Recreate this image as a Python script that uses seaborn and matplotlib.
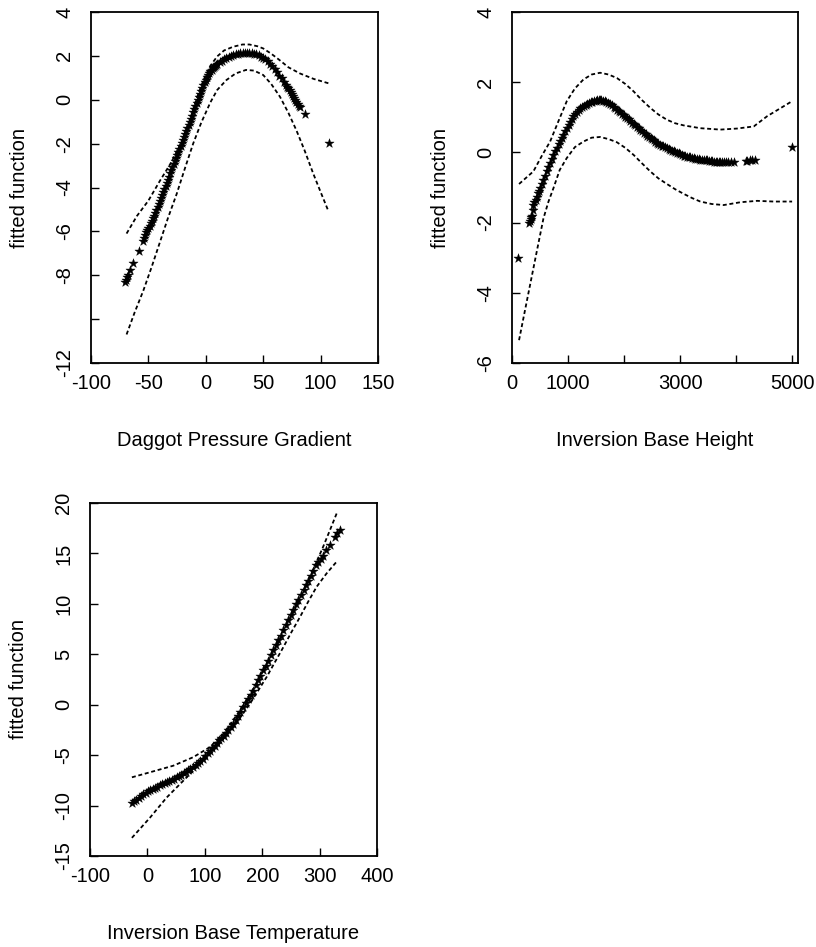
import matplotlib
matplotlib.use("Agg")
import matplotlib.pyplot as plt
import seaborn as sns
import pandas as pd

# ---- Daggot Pressure Gradient ----
dpg_x = [-70, -69.5, -69, -68, -66, -63, -58, -55, -54, -53, -52, -51, -50, -49, -48, -47,
         -46, -45, -44, -43, -42, -41, -40, -39, -38, -37, -36, -35, -34, -33, -32, -31,
         -30, -29, -28, -27, -26, -25, -24, -23, -22, -21, -20, -19, -18, -17, -16, -15,
         -14, -13, -12, -11, -10, -9, -8, -7, -6, -5, -4, -3, -2, -1, 0, 1, 2, 3, 4, 5, 6,
         7, 8, 9, 10, 12, 14, 16, 18, 20, 22, 24, 26, 28, 30, 32, 34, 36, 38, 40, 42, 44,
         46, 48, 50, 52, 54, 56, 58, 60, 62, 64, 66, 68, 70, 71, 72, 73, 74, 75, 76, 77,
         78, 79, 80, 81, 82, 86, 107]
dpg_fit = [-8.3, -8.2, -8.1, -8.0, -7.75, -7.45, -6.9, -6.45, -6.3, -6.15, -6.05, -5.95,
           -5.85, -5.75, -5.63, -5.52, -5.4, -5.29, -5.17, -5.03, -4.89, -4.75, -4.61,
           -4.47, -4.34, -4.2, -4.06, -3.92, -3.78, -3.64, -3.5, -3.36, -3.22, -3.08,
           -2.95, -2.81, -2.67, -2.53, -2.39, -2.25, -2.11, -1.97, -1.83, -1.69, -1.56,
           -1.42, -1.28, -1.14, -1.0, -0.86, -0.72, -0.58, -0.44, -0.3, -0.17, -0.03,
           0.11, 0.25, 0.39, 0.53, 0.66, 0.8, 0.92, 1.03, 1.12, 1.21, 1.3, 1.37, 1.43,
           1.49, 1.55, 1.6, 1.65, 1.72, 1.78, 1.84, 1.89, 1.94, 1.99, 2.03, 2.07, 2.1,
           2.12, 2.14, 2.15, 2.15, 2.14, 2.13, 2.1, 2.07, 2.02, 1.97, 1.91, 1.84, 1.75,
           1.64, 1.52, 1.39, 1.25, 1.1, 0.97, 0.83, 0.68, 0.6, 0.52, 0.43, 0.35, 0.25,
           0.15, 0.07, 0.0, -0.1, -0.2, -0.27, -0.35, -0.65, -1.95]
dpg_up_x = [-69, -60, -50, -40, -30, -20, -14, -8, -2, 4, 10, 16, 24, 32, 38, 45, 50, 57,
            64, 72, 82, 94, 107]
dpg_up = [-6.1, -5.3, -4.6, -3.7, -2.85, -1.8, -0.95, 0.05, 0.9, 1.55, 1.98, 2.25, 2.42,
          2.52, 2.52, 2.44, 2.34, 2.1, 1.82, 1.48, 1.2, 0.95, 0.75]
dpg_lo_x = [-69, -62, -54.4, -47, -40, -33, -25.4, -18, -11, -4, 4, 10, 18, 26, 35, 42, 50,
            57, 64.6, 72, 79, 86, 93.5, 100, 107]
dpg_lo = [-10.7, -9.7, -8.7, -7.6, -6.5, -5.4, -4.3, -3.1, -2.0, -1.05, -0.12, 0.45, 0.9,
          1.2, 1.36, 1.33, 1.13, 0.72, 0.14, -0.6, -1.4, -2.3, -3.35, -4.2, -5.1]

# ---- Inversion Base Height ----
ibh_x = [113, 310, 320, 330, 340, 350, 365, 381, 400, 420, 440, 460, 480, 500, 530, 560,
         590, 619, 650, 680, 710, 738, 770, 800, 830, 860, 890, 917, 950, 980, 1010, 1040,
         1070, 1095, 1130, 1160, 1190, 1220, 1250, 1280, 1310, 1333, 1370, 1400, 1430,
         1460, 1490, 1520, 1545, 1571, 1595, 1620, 1650, 1680, 1710, 1740, 1775, 1810,
         1840, 1870, 1900, 1930, 1960, 1990, 2020, 2048, 2080, 2110, 2140, 2170, 2200,
         2230, 2260, 2286, 2320, 2350, 2380, 2410, 2440, 2470, 2500, 2524, 2550, 2580,
         2610, 2640, 2670, 2700, 2730, 2762, 2790, 2820, 2850, 2880, 2910, 2940, 2970,
         3000, 3030, 3060, 3090, 3120, 3150, 3180, 3210, 3238, 3270, 3300, 3330, 3360,
         3390, 3420, 3450, 3476, 3510, 3540, 3570, 3600, 3630, 3660, 3690, 3714, 3750,
         3780, 3820, 3850, 3900, 3952, 4170, 4190, 4240, 4280, 4339, 4994]
ibh_fit = [-3.0, -2.02, -1.96, -1.9, -1.85, -1.8, -1.65, -1.5, -1.42, -1.35, -1.26, -1.17,
           -1.1, -1.02, -0.9, -0.78, -0.66, -0.54, -0.42, -0.3, -0.18, -0.07, 0.03, 0.13,
           0.23, 0.32, 0.41, 0.5, 0.6, 0.7, 0.79, 0.87, 0.96, 1.03, 1.1, 1.15, 1.21, 1.26,
           1.3, 1.33, 1.36, 1.38, 1.41, 1.43, 1.45, 1.46, 1.47, 1.48, 1.48, 1.48, 1.48,
           1.47, 1.46, 1.44, 1.41, 1.38, 1.34, 1.3, 1.26, 1.22, 1.18, 1.14, 1.1, 1.06,
           1.02, 0.98, 0.94, 0.9, 0.85, 0.81, 0.77, 0.73, 0.69, 0.65, 0.6, 0.56, 0.52,
           0.48, 0.44, 0.4, 0.37, 0.34, 0.31, 0.28, 0.25, 0.22, 0.19, 0.17, 0.14, 0.12,
           0.1, 0.08, 0.05, 0.03, 0.01, -0.01, -0.03, -0.05, -0.07, -0.09, -0.1, -0.12,
           -0.13, -0.14, -0.15, -0.16, -0.18, -0.19, -0.2, -0.21, -0.22, -0.22, -0.23,
           -0.23, -0.24, -0.25, -0.25, -0.26, -0.26, -0.26, -0.26, -0.26, -0.26, -0.26,
           -0.26, -0.26, -0.26, -0.26, -0.24, -0.24, -0.23, -0.22, -0.21, 0.15]
ibh_up_x = [125, 381, 530, 679, 830, 976, 1120, 1274, 1420, 1571, 1720, 1869, 2020, 2167,
            2310, 2464, 2610, 2762, 2910, 3060, 3357, 3714, 4012, 4310, 4548, 4994]
ibh_up = [-0.9, -0.54, -0.1, 0.31, 0.9, 1.46, 1.82, 2.08, 2.22, 2.27, 2.22, 2.12, 1.95,
          1.74, 1.5, 1.27, 1.08, 0.93, 0.83, 0.77, 0.69, 0.65, 0.68, 0.74, 1.03, 1.46]
ibh_lo_x = [125, 202, 321, 440, 560, 650, 738, 850, 976, 1120, 1274, 1420, 1571, 1720,
            1869, 2020, 2167, 2310, 2464, 2610, 2762, 2910, 3060, 3210, 3357, 3560, 3774,
            4071, 4369, 4667, 4994]
ibh_lo = [-5.35, -4.73, -3.78, -2.83, -1.88, -1.4, -1.02, -0.5, -0.16, 0.15, 0.31, 0.42,
          0.44, 0.38, 0.29, 0.13, -0.07, -0.3, -0.54, -0.74, -0.9, -1.05, -1.18, -1.3,
          -1.4, -1.47, -1.5, -1.42, -1.38, -1.4, -1.4]

# ---- Inversion Base Temperature ----
ibt_x = [-27, -23, -19, -15, -11, -7, -3, 1, 5, 9, 13, 17, 22, 26, 30, 34, 38, 42, 46, 51,
         55, 59, 63, 67, 71, 75, 80, 84, 88, 92, 96, 100, 105, 109, 113, 117, 121, 125,
         129, 133, 137, 141, 145, 150, 154, 158, 162, 167, 171, 175, 180, 184, 189, 193,
         197, 202, 206, 210, 215, 219, 224, 228, 232, 237, 241, 245, 250, 254, 259, 263,
         268, 272, 276, 280, 285, 289, 294, 298, 302, 306, 312, 318, 327, 331, 336]
ibt_fit = [-9.7, -9.55, -9.4, -9.25, -9.1, -8.9, -8.75, -8.6, -8.45, -8.35, -8.25, -8.15,
           -8.0, -7.9, -7.8, -7.7, -7.55, -7.45, -7.35, -7.2, -7.07, -6.93, -6.8, -6.65,
           -6.5, -6.37, -6.2, -6.0, -5.8, -5.6, -5.35, -5.1, -4.8, -4.55, -4.3, -4.05,
           -3.8, -3.55, -3.35, -3.15, -2.85, -2.55, -2.25, -1.9, -1.5, -1.1, -0.7, -0.25,
           0.15, 0.55, 1.0, 1.4, 1.95, 2.4, 2.85, 3.4, 3.85, 4.35, 4.9, 5.4, 5.95, 6.4,
           6.85, 7.4, 7.9, 8.35, 8.9, 9.4, 9.95, 10.4, 10.9, 11.35, 11.85, 12.3, 12.8,
           13.3, 13.8, 14.15, 14.45, 14.75, 15.3, 15.8, 16.6, 17.0, 17.3]
ibt_up_x = [-27, 4.5, 45, 80, 109, 132, 146, 161, 175, 190, 204, 219, 233, 248, 263,
            277.5, 292, 306.5, 318, 330]
ibt_up = [-7.2, -6.7, -6.05, -5.2, -4.2, -2.9, -1.8, -0.6, 0.7, 2.1, 3.6, 5.1, 6.7, 8.4,
          10.2, 12.0, 13.8, 15.7, 17.3, 19.0]
ibt_lo_x = [-27, 4.5, 33.6, 68.5, 97.4, 120.7, 135, 149.7, 164, 178.7, 193, 207.8, 222,
            236.8, 251, 265.9, 280, 295, 312, 330]
ibt_lo = [-13.2, -11.2, -9.2, -7.2, -5.55, -4.2, -3.2, -2.2, -1.1, 0.1, 1.4, 2.75, 4.2,
          5.7, 7.2, 8.7, 10.2, 11.7, 13.0, 14.2]

sns.set_style("ticks")
plt.rcParams["font.family"] = ["Liberation Sans", "DejaVu Sans"]
plt.rcParams["font.size"] = 14.5
plt.rcParams["text.color"] = "black"
plt.rcParams["axes.labelcolor"] = "black"

fig = plt.figure(figsize=(8.16, 9.47), dpi=100)

DASH = (0, (2.2, 1.5))


def panel(rect, x, fit, ux, up, lx, lo, xlabel, xlim, ylim, xticks, xlabels, yticks, ylabels):
    ax = fig.add_axes(rect)
    pts = pd.DataFrame({"x": x, "fit": fit})
    sns.scatterplot(data=pts, x="x", y="fit", ax=ax, marker="*", s=48, color="black",
                    edgecolor="black", linewidth=0.3, legend=False, zorder=3)
    for bx, by in ((ux, up), (lx, lo)):
        band = pd.DataFrame({"x": bx, "y": by})
        sns.lineplot(data=band, x="x", y="y", ax=ax, color="black", lw=1.3,
                     linestyle=DASH, sort=False, estimator=None)
    ax.set_xlim(*xlim)
    ax.set_ylim(*ylim)
    ax.set_xticks(xticks)
    ax.set_xticklabels(xlabels)
    ax.set_yticks(yticks)
    ax.set_yticklabels(ylabels, rotation=90, va="center")
    ax.tick_params(direction="in", length=6, width=1.0, color="black", labelcolor="black")
    ax.tick_params(axis="x", pad=8)
    ax.tick_params(axis="y", pad=12)
    for s in ax.spines.values():
        s.set_linewidth(1.3)
        s.set_color("black")
    ax.set_xlabel(xlabel, labelpad=27, color="black")
    ax.set_ylabel("fitted function", labelpad=19, color="black")
    return ax


panel([0.1115, 0.6167, 0.3517, 0.3706], dpg_x, dpg_fit, dpg_up_x, dpg_up, dpg_lo_x, dpg_lo,
      "Daggot Pressure Gradient", (-100, 150), (-12, 4),
      [-100, -50, 0, 50, 100, 150], ["-100", "-50", "0", "50", "100", "150"],
      [-12, -10, -8, -6, -4, -2, 0, 2, 4], ["-12", "", "-8", "-6", "-4", "-2", "0", "2", "4"])

panel([0.6275, 0.6167, 0.3505, 0.3706], ibh_x, ibh_fit, ibh_up_x, ibh_up, ibh_lo_x, ibh_lo,
      "Inversion Base Height", (0, 5100), (-6, 4),
      [0, 1000, 2000, 3000, 4000, 5000], ["0", "1000", "", "3000", "", "5000"],
      [-6, -4, -2, 0, 2, 4], ["-6", "-4", "-2", "0", "2", "4"])

panel([0.1103, 0.0961, 0.3517, 0.3728], ibt_x, ibt_fit, ibt_up_x, ibt_up, ibt_lo_x, ibt_lo,
      "Inversion Base Temperature", (-100, 400), (-15, 20),
      [-100, 0, 100, 200, 300, 400], ["-100", "0", "100", "200", "300", "400"],
      [-15, -10, -5, 0, 5, 10, 15, 20], ["-15", "-10", "-5", "0", "5", "10", "15", "20"])

fig.savefig("out.png", dpi=100, facecolor="white")
